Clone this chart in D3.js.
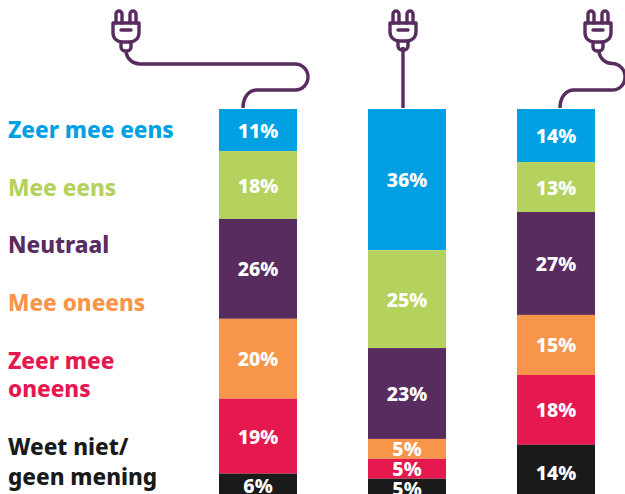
<!DOCTYPE html>
<html><head><meta charset="utf-8">
<script src="https://cdn.jsdelivr.net/npm/d3@7"></script>
<style>html,body{margin:0;padding:0;background:#fff;overflow:hidden}svg{display:block}text{font-family:"Noto Sans",sans-serif;font-weight:800}</style>
</head><body><svg id="c" width="625" height="494"></svg>
<script>
const categories = ["Zeer mee eens","Mee eens","Neutraal","Mee oneens","Zeer mee oneens","Weet niet/ geen mening"];
const colors = ["#00A0E3","#B5D25E","#582C5F","#F7964A","#E5184F","#1A1A1A"];
const groups = ["A","B","C"];
// segment sizes
const seriesA = [10.8,17.4,25.6,20.5,19.2,6];
const seriesB = [36.2,25.1,23.3,5.1,5.1,5];
const seriesC = [13.6,12.8,26.4,15.4,17.9,14];
// printed labels
const labelsA = ["11%","18%","26%","20%","19%","6%"];
const labelsB = ["36%","25%","23%","5%","5%","5%"];
const labelsC = ["14%","13%","27%","15%","18%","14%"];
const legendLines = [["Zeer mee eens"],["Mee eens"],["Neutraal"],["Mee oneens"],["Zeer mee","oneens"],["Weet niet/","geen mening"]];
const legendY = [[138],[196],[253],[311],[369,397],[455,485]];

const svg = d3.select("#c");
const x = d3.scaleBand().domain(groups).range([219,595]).paddingInner(71/149).paddingOuter(0);
const y = d3.scaleLinear().domain([0,100]).range([109,499]);
const all = [[seriesA,labelsA],[seriesB,labelsB],[seriesC,labelsC]];

groups.forEach((g,gi)=>{
  let cum=0;
  const [vals,labs]=all[gi];
  vals.forEach((v,i)=>{
    const y0=y(cum), y1=y(cum+v); cum+=v;
    svg.append("rect").attr("x",x(g)).attr("y",y0).attr("width",x.bandwidth()).attr("height",y1-y0).attr("fill",colors[i]);
    svg.append("text").attr("x",x(g)+x.bandwidth()/2).attr("y",Math.min((y0+y1)/2+7.5,500))
      .attr("text-anchor","middle").attr("font-size",19.5).attr("fill","#fff").text(labs[i]);
  });
});

legendLines.forEach((ls,i)=>ls.forEach((t,j)=>{
  svg.append("text").attr("x",8).attr("y",legendY[i][j]).attr("font-size",22.5).attr("fill",colors[i]).text(t);
}));

const purple="#582C5F";
function plug(cx,top,h){
  const g=svg.append("g").attr("fill","none").attr("stroke",purple).attr("stroke-width",3.4).attr("stroke-linecap","round").attr("stroke-linejoin","round");
  const bt=top+12, bb=top+12+h;
  [-7,7].forEach(d=>g.append("path").attr("d",`M${cx+d-3},${bt}V${top+3}a3,3 0 0 1 6,0V${bt}`));
  g.append("path").attr("d",`M${cx-13},${bt}H${cx+13}V${bb-9}a9,9 0 0 1 -9,9H${cx-4}a9,9 0 0 1 -9,-9Z`);
  g.append("path").attr("d",`M${cx-5},${bt+7}H${cx+5}`);
  g.append("path").attr("d",`M${cx-5},${bb}V${bb+5}a4,4 0 0 0 4,4h2a4,4 0 0 0 4,-4V${bb}`);
}
plug(126,11,19);
plug(403,11,18);
plug(598,11,19);
const cable=svg.append("g").attr("fill","none").attr("stroke",purple).attr("stroke-width",3.4);
cable.append("path").attr("d","M126,52C127,59 133,64 140,64H295A13,13 0 0 1 295,90H257C249,90 243,97 243,108");
cable.append("path").attr("d","M403,47V108");
cable.append("path").attr("d","M599,52C600,59 606,63.5 612,63.5C620,63.5 625,70 625,77C625,84 620,90 612,90H574C566,90 560,97 560,108");
</script></body></html>
